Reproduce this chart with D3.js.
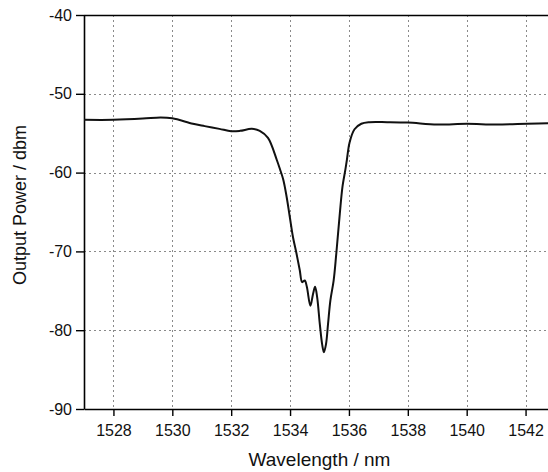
<!DOCTYPE html>
<html>
<head>
<meta charset="utf-8">
<script src="https://cdn.jsdelivr.net/npm/d3@7"></script>
<style>
html,body{margin:0;padding:0;background:#fff;}
svg{display:block;font-family:"Liberation Sans",Arial,sans-serif;}
</style>
</head>
<body>
<svg id="chart" width="548" height="472"></svg>
<script>
const wavelength = [1527.0, 1528.0, 1529.0, 1529.6, 1530.0, 1530.7, 1531.1, 1531.6, 1532.0, 1532.3, 1532.7, 1532.97, 1533.25, 1533.55, 1533.66, 1533.77, 1533.88, 1533.99, 1534.1, 1534.22, 1534.33, 1534.41, 1534.5, 1534.57, 1534.69, 1534.78, 1534.85, 1534.92, 1535.01, 1535.09, 1535.15, 1535.22, 1535.29, 1535.37, 1535.48, 1535.57, 1535.69, 1535.78, 1535.88, 1535.93, 1536.02, 1536.19, 1536.42, 1536.7, 1537.3, 1538.0, 1539.0, 1540.0, 1541.0, 1542.05, 1543.0];
const power = [-53.3, -53.3, -53.15, -53.0, -53.1, -53.8, -54.1, -54.45, -54.75, -54.7, -54.45, -54.7, -55.6, -58.4, -59.6, -60.9, -63.0, -65.6, -68.2, -70.3, -72.4, -73.9, -73.7, -74.5, -76.9, -75.4, -74.5, -75.8, -79.2, -81.8, -82.8, -81.8, -79.2, -76.2, -73.7, -70.3, -65.2, -61.8, -59.6, -58.4, -56.2, -54.5, -53.8, -53.6, -53.6, -53.65, -53.9, -53.8, -53.9, -53.8, -53.7];
const xTicks = [1528, 1530, 1532, 1534, 1536, 1538, 1540, 1542];
const yTicks = [-40, -50, -60, -70, -80, -90];
const xLabel = "Wavelength / nm";
const yLabel = "Output Power / dbm";

const svg = d3.select("#chart");
const mLeft = 84, mRight = 555, mTop = 15, mBottom = 409;
const x = d3.scaleLinear().domain([1527, 1543]).range([mLeft, mRight]);
const y = d3.scaleLinear().domain([-90, -40]).range([mBottom, mTop]);

// grid
const grid = svg.append("g").attr("stroke", "#8a8a8a").attr("stroke-width", 1).attr("stroke-dasharray", "2,3");
grid.selectAll("line.v").data(xTicks).enter().append("line").attr("class", "v")
  .attr("x1", d => Math.round(x(d)) + 0.5).attr("x2", d => Math.round(x(d)) + 0.5)
  .attr("y1", mTop).attr("y2", mBottom);
grid.selectAll("line.h").data(yTicks.filter(d => d !== -90 && d !== -40)).enter().append("line").attr("class", "h")
  .attr("x1", mLeft).attr("x2", mRight)
  .attr("y1", d => Math.round(y(d)) + 0.5).attr("y2", d => Math.round(y(d)) + 0.5);

// top border
svg.append("line").attr("x1", mLeft).attr("x2", mRight).attr("y1", mTop + 0.5).attr("y2", mTop + 0.5)
  .attr("stroke", "#000").attr("stroke-width", 1.6);

// axes
const fmt = d => String(d);
const xAxis = d3.axisBottom(x).tickValues(xTicks).tickFormat(fmt).tickSizeInner(7).tickSizeOuter(0).tickPadding(9);
const yAxis = d3.axisLeft(y).tickValues(yTicks).tickFormat(fmt).tickSizeInner(8).tickSizeOuter(0).tickPadding(4);

const gx = svg.append("g").attr("transform", `translate(0,${mBottom})`).call(xAxis);
const gy = svg.append("g").attr("transform", `translate(${mLeft},0)`).call(yAxis);
[gx, gy].forEach(g => {
  g.select(".domain").attr("stroke", "#000").attr("stroke-width", 1.6);
  g.selectAll(".tick line").attr("stroke", "#000").attr("stroke-width", 1.4);
  g.selectAll(".tick text").attr("fill", "#111").style("font-size", "16px").style("font-family", "'Liberation Sans', Arial, sans-serif");
});

// curve
const line = d3.line().x((d, i) => x(wavelength[i])).y(d => y(d)).curve(d3.curveCatmullRom.alpha(0.5));
svg.append("path").datum(power).attr("d", line).attr("fill", "none")
  .attr("stroke", "#111").attr("stroke-width", 2).attr("stroke-linejoin", "round");

// labels
svg.append("text").attr("x", (mLeft + mRight) / 2).attr("y", 466).attr("text-anchor", "middle")
  .style("font-size", "19px").attr("fill", "#111").text(xLabel);
svg.append("text").attr("transform", `translate(26,205) rotate(-90)`).attr("text-anchor", "middle")
  .style("font-size", "18px").attr("fill", "#111").text(yLabel);
</script>
</body>
</html>
